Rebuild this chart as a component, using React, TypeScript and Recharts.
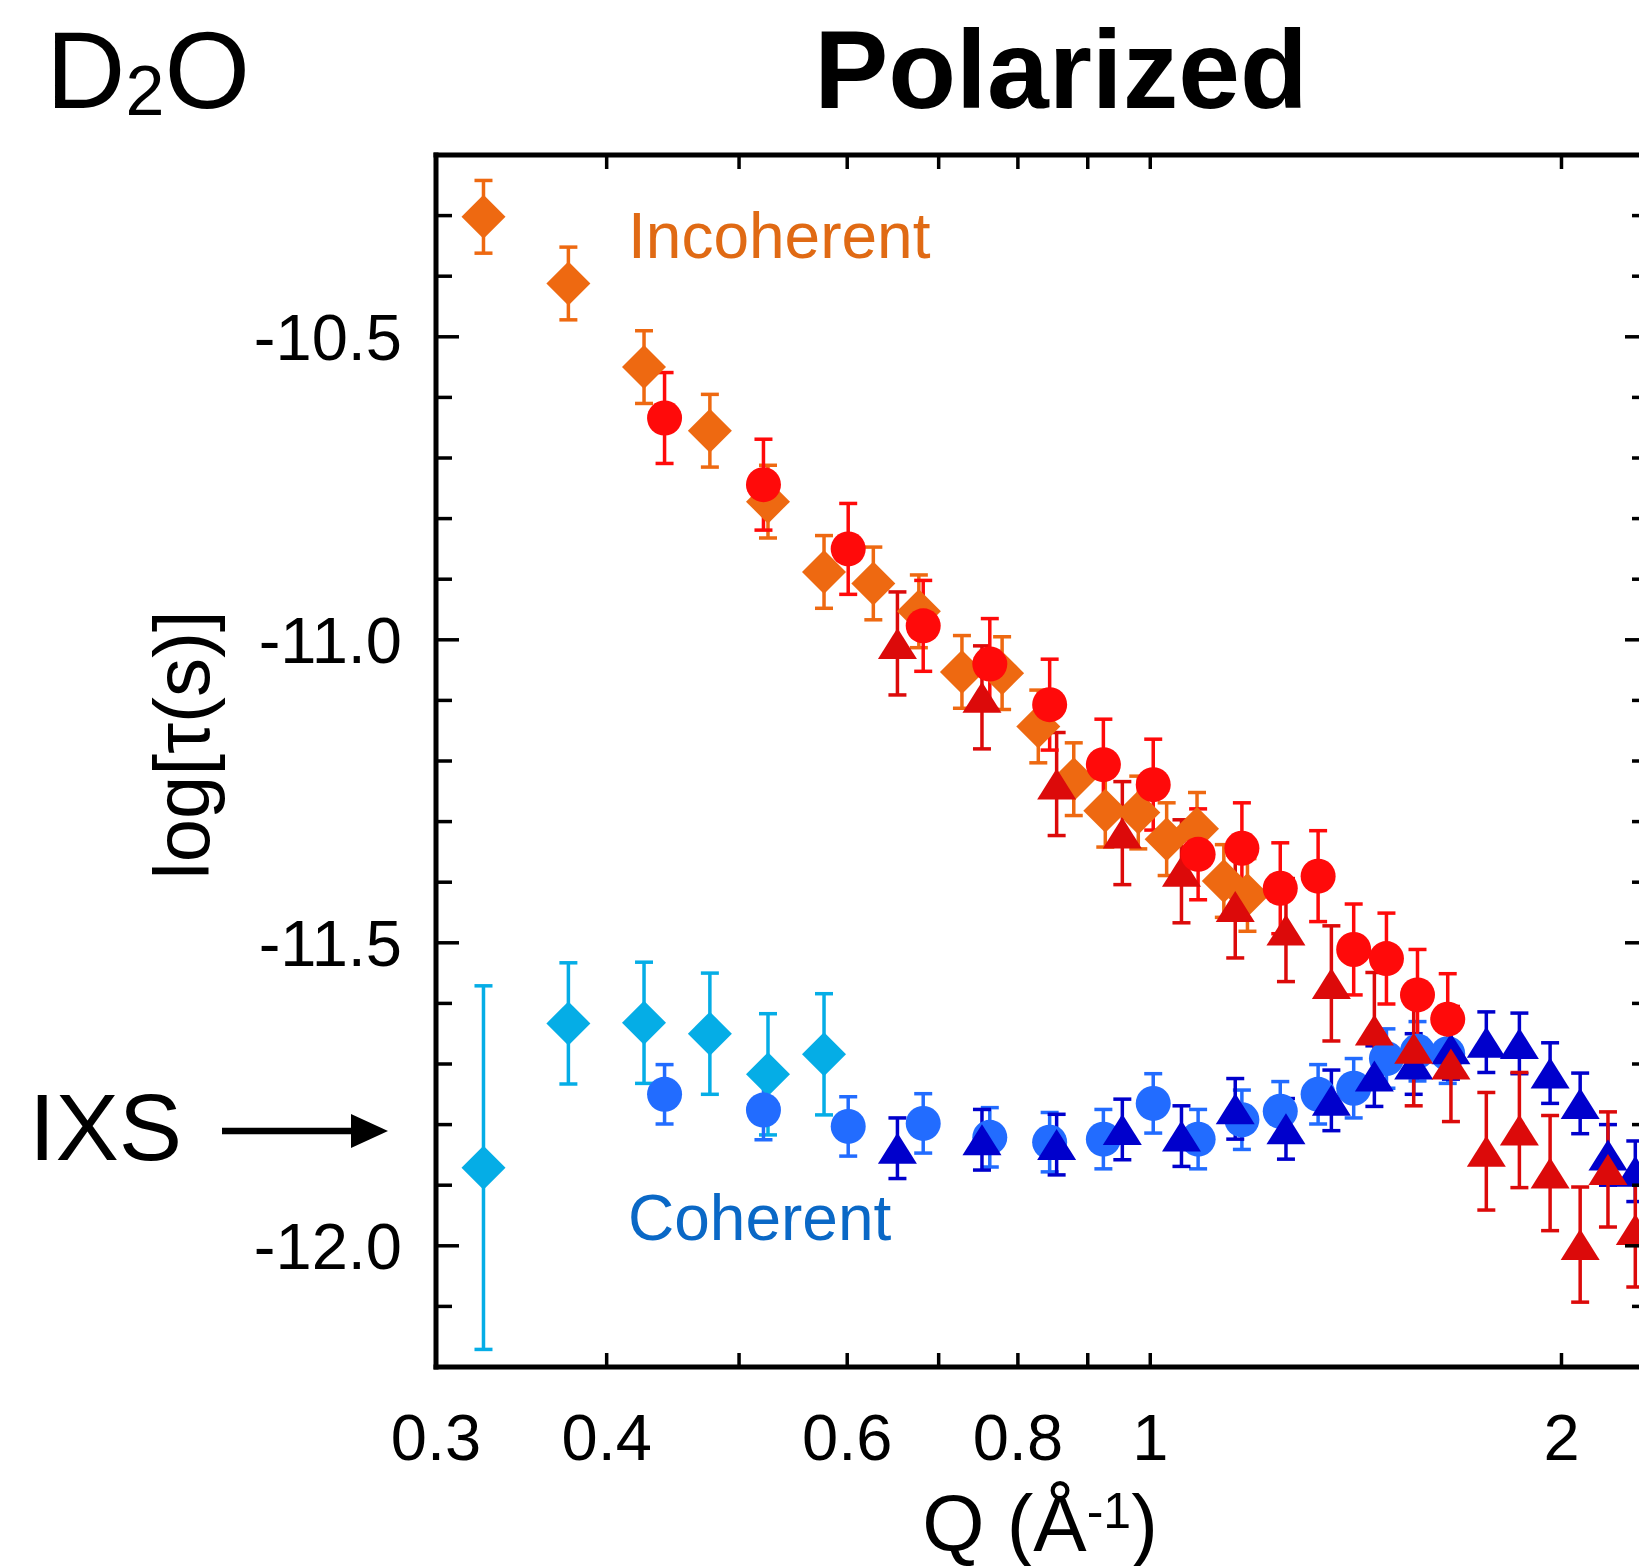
import { ComposedChart, ErrorBar, Scatter, XAxis, YAxis } from "recharts";

const FONT = '"Liberation Sans", Arial, Helvetica, sans-serif';

// Q in 1/Å, log10 of tau in s, error bar half-height
const incDiamondQ = [0.325, 0.375, 0.426, 0.476, 0.525, 0.577, 0.627, 0.677, 0.728, 0.779, 0.828, 0.879, 0.927, 0.98, 1.028, 1.082, 1.132, 1.178];
const incDiamondTau = [-10.302, -10.412, -10.55, -10.655, -10.772, -10.888, -10.907, -10.953, -11.053, -11.055, -11.143, -11.23, -11.282, -11.285, -11.329, -11.312, -11.398, -11.421];
const incDiamondErr = [0.06, 0.06, 0.06, 0.06, 0.06, 0.06, 0.06, 0.06, 0.06, 0.06, 0.06, 0.06, 0.06, 0.06, 0.06, 0.06, 0.06, 0.06];

const circleQ = [0.441, 0.521, 0.601, 0.682, 0.763, 0.844, 0.924, 1.005, 1.084, 1.167, 1.245, 1.327, 1.409, 1.489, 1.569, 1.651];
const incCircleTau = [-10.634, -10.744, -10.85, -10.977, -11.04, -11.107, -11.206, -11.239, -11.354, -11.344, -11.41, -11.39, -11.511, -11.526, -11.586, -11.626];
const incCircleErr = [0.075, 0.075, 0.075, 0.075, 0.075, 0.075, 0.075, 0.075, 0.075, 0.075, 0.075, 0.075, 0.075, 0.075, 0.075, 0.075];

const triangleQ = [0.653, 0.753, 0.854, 0.954, 1.054, 1.154, 1.257, 1.357, 1.459, 1.559, 1.66, 1.762, 1.863, 1.962, 2.064, 2.163, 2.265];
const incTriangleTau = [-11.006, -11.095, -11.238, -11.319, -11.382, -11.44, -11.479, -11.567, -11.644, -11.674, -11.7, -11.844, -11.809, -11.88, -11.998, -11.874, -11.973];
const incTriangleErr = [0.085, 0.085, 0.085, 0.085, 0.085, 0.085, 0.085, 0.095, 0.095, 0.095, 0.095, 0.097, 0.095, 0.095, 0.095, 0.095, 0.095];

const cohDiamondQ = [0.325, 0.375, 0.426, 0.476, 0.525, 0.577];
const cohDiamondTau = [-11.871, -11.633, -11.632, -11.65, -11.717, -11.684];
const cohDiamondErr = [0.3, 0.1, 0.1, 0.1, 0.1, 0.1];

const cohCircleTau = [-11.75, -11.776, -11.803, -11.798, -11.821, -11.829, -11.824, -11.765, -11.824, -11.792, -11.778, -11.75, -11.74, -11.691, -11.679, -11.683];
const cohCircleErr = [0.049, 0.049, 0.049, 0.049, 0.049, 0.049, 0.049, 0.049, 0.049, 0.049, 0.049, 0.049, 0.049, 0.049, 0.049, 0.049];

const cohTriangleTau = [-11.839, -11.825, -11.833, -11.808, -11.819, -11.774, -11.807, -11.76, -11.72, -11.7, -11.675, -11.664, -11.666, -11.715, -11.765, -11.85, -11.877];
const cohTriangleErr = [0.05, 0.05, 0.05, 0.05, 0.05, 0.05, 0.05, 0.05, 0.05, 0.05, 0.05, 0.05, 0.05, 0.05, 0.05, 0.05, 0.05];

const xTicks = [0.3, 0.4, 0.5, 0.6, 0.7, 0.8, 0.9, 1, 2];
const xLabels = [0.3, 0.4, 0.6, 0.8, 1, 2];
const yMajor = [-12.0, -11.5, -11.0, -10.5];
const yMinor = [-12.1, -11.9, -11.8, -11.7, -11.6, -11.4, -11.3, -11.2, -11.1, -10.9, -10.8, -10.7, -10.6, -10.4, -10.3];
const yTicks = [...yMajor, ...yMinor].sort((a, b) => a - b);

const ORANGE = "#EE6911";
const RED = "#FF0A0A";
const DARK_RED = "#DC0A0A";
const CYAN = "#05ADE6";
const BLUE = "#226CFF";
const NAVY = "#0000CC";

const toRows = (q: number[], tau: number[], err: number[]) =>
	q.map((v, i) => ({ q: v, tau: tau[i], err: err[i] }));

const isMajor = (v: number) => yMajor.some((m) => Math.abs(m - v) < 1e-6);

const diamond = (color: string) => (p: any) => (
	<path
		d={`M${p.cx},${p.cy - 22}L${p.cx + 22},${p.cy}L${p.cx},${p.cy + 22}L${p.cx - 22},${p.cy}Z`}
		fill={color}
	/>
);
const circle = (color: string) => (p: any) => (
	<circle cx={p.cx} cy={p.cy} r={17.5} fill={color} />
);
const triangle = (color: string) => (p: any) => (
	<path
		d={`M${p.cx},${p.cy - 15.5}L${p.cx + 19.5},${p.cy + 15.5}L${p.cx - 19.5},${p.cy + 15.5}Z`}
		fill={color}
	/>
);

const BottomTick = (p: any) => {
	const v = p.payload.value;
	return (
		<g>
			<line x1={p.x} y1={p.y} x2={p.x} y2={p.y - 14} stroke="#000" strokeWidth={3.5} />
			{xLabels.includes(v) && (
				<text x={p.x} y={p.y + 93} textAnchor="middle" fontSize={65} fontFamily={FONT} fill="#000">
					{String(v)}
				</text>
			)}
		</g>
	);
};

const TopTick = (p: any) => (
	<line x1={p.x} y1={p.y} x2={p.x} y2={p.y + 14} stroke="#000" strokeWidth={3.5} />
);

const LeftTick = (p: any) => {
	const v = p.payload.value;
	const major = isMajor(v);
	return (
		<g>
			<line x1={p.x} y1={p.y} x2={p.x + (major ? 23 : 16)} y2={p.y} stroke="#000" strokeWidth={3.5} />
			{major && (
				<text x={p.x - 34} y={p.y + 23} textAnchor="end" fontSize={65} fontFamily={FONT} fill="#000">
					{v.toFixed(1)}
				</text>
			)}
		</g>
	);
};

const RightTick = (p: any) => {
	const major = isMajor(p.payload.value);
	return (
		<line x1={p.x} y1={p.y} x2={p.x - (major ? 23 : 16)} y2={p.y} stroke="#000" strokeWidth={3.5} />
	);
};

const axisLine = { stroke: "#000", strokeWidth: 5, strokeLinecap: "square" as const };

const series = [
	{ name: "cohDiamond", rows: toRows(cohDiamondQ, cohDiamondTau, cohDiamondErr), color: CYAN, shape: diamond(CYAN) },
	{ name: "incDiamond", rows: toRows(incDiamondQ, incDiamondTau, incDiamondErr), color: ORANGE, shape: diamond(ORANGE) },
	{ name: "cohCircle", rows: toRows(circleQ, cohCircleTau, cohCircleErr), color: BLUE, shape: circle(BLUE) },
	{ name: "cohTriangle", rows: toRows(triangleQ, cohTriangleTau, cohTriangleErr), color: NAVY, shape: triangle(NAVY) },
	{ name: "incTriangle", rows: toRows(triangleQ, incTriangleTau, incTriangleErr), color: DARK_RED, shape: triangle(DARK_RED) },
	{ name: "incCircle", rows: toRows(circleQ, incCircleTau, incCircleErr), color: RED, shape: circle(RED) },
];

export default function App() {
	return (
		<div
			style={{
				position: "absolute",
				left: 0,
				top: 0,
				width: 1639,
				height: 1566,
				overflow: "hidden",
				background: "#fff",
			}}
		>
			<ComposedChart width={1700} height={1566} margin={{ top: 135, right: 32, bottom: 0, left: 0 }}>
				<XAxis
					xAxisId="b"
					dataKey="q"
					type="number"
					scale="log"
					domain={[0.3, 2.314]}
					allowDataOverflow
					ticks={xTicks}
					interval={0}
					height={199}
					tickSize={0}
					tickMargin={0}
					tickLine={false}
					axisLine={axisLine}
					tick={(p: any) => <BottomTick {...p} />}
				/>
				<XAxis
					xAxisId="t"
					orientation="top"
					dataKey="q"
					type="number"
					scale="log"
					domain={[0.3, 2.314]}
					allowDataOverflow
					ticks={xTicks}
					interval={0}
					height={20}
					tickSize={0}
					tickMargin={0}
					tickLine={false}
					axisLine={axisLine}
					tick={(p: any) => <TopTick {...p} />}
				/>
				<YAxis
					yAxisId="l"
					type="number"
					domain={[-12.2, -10.2]}
					allowDataOverflow
					ticks={yTicks}
					interval={0}
					width={436}
					tickSize={0}
					tickMargin={0}
					tickLine={false}
					axisLine={axisLine}
					tick={(p: any) => <LeftTick {...p} />}
				/>
				<YAxis
					yAxisId="r"
					orientation="right"
					type="number"
					domain={[-12.2, -10.2]}
					allowDataOverflow
					ticks={yTicks}
					interval={0}
					width={20}
					tickSize={0}
					tickMargin={0}
					tickLine={false}
					axisLine={axisLine}
					tick={(p: any) => <RightTick {...p} />}
				/>
				{series.map((s) => (
					<Scatter
						key={s.name}
						name={s.name}
						xAxisId="b"
						yAxisId="l"
						data={s.rows}
						dataKey="tau"
						fill={s.color}
						shape={s.shape}
						isAnimationActive={false}
					>
						<ErrorBar
							dataKey="err"
							direction="y"
							width={9}
							stroke={s.color}
							strokeWidth={3.5}
							isAnimationActive={false}
						/>
					</Scatter>
				))}
			</ComposedChart>
			<svg
				width={1639}
				height={1566}
				style={{ position: "absolute", left: 0, top: 0, pointerEvents: "none" }}
				fontFamily={FONT}
			>
				<text x={1061} y={108} textAnchor="middle" fontSize={111} fontWeight="bold" fill="#000">
					Polarized
				</text>
				<text x={46} y={108} fontSize={110} fill="#000">
					D
					<tspan fontSize={70} dy={7}>
						2
					</tspan>
					<tspan fontSize={110} dy={-7}>
						O
					</tspan>
				</text>
				<text x={628} y={258} fontSize={64} fill="#E06A14">
					Incoherent
				</text>
				<text x={628} y={1240} fontSize={64} fill="#0A68C6">
					Coherent
				</text>
				<text x={29} y={1160} fontSize={95} fill="#000">
					IXS
				</text>
				<line x1={222} y1={1131} x2={356} y2={1131} stroke="#000" strokeWidth={6.5} />
				<path d="M351,1114L388,1131L351,1148Z" fill="#000" />
				<text x={209} y={745} transform="rotate(-90 209 745)" textAnchor="middle" fontSize={78} fill="#000">
					log[τ(s)]
				</text>
				<text x={1040} y={1551} textAnchor="middle" fontSize={80} fill="#000">
					Q (Å
					<tspan fontSize={50} dy={-23}>
						-1
					</tspan>
					<tspan fontSize={80} dy={23}>
						)
					</tspan>
				</text>
			</svg>
		</div>
	);
}
